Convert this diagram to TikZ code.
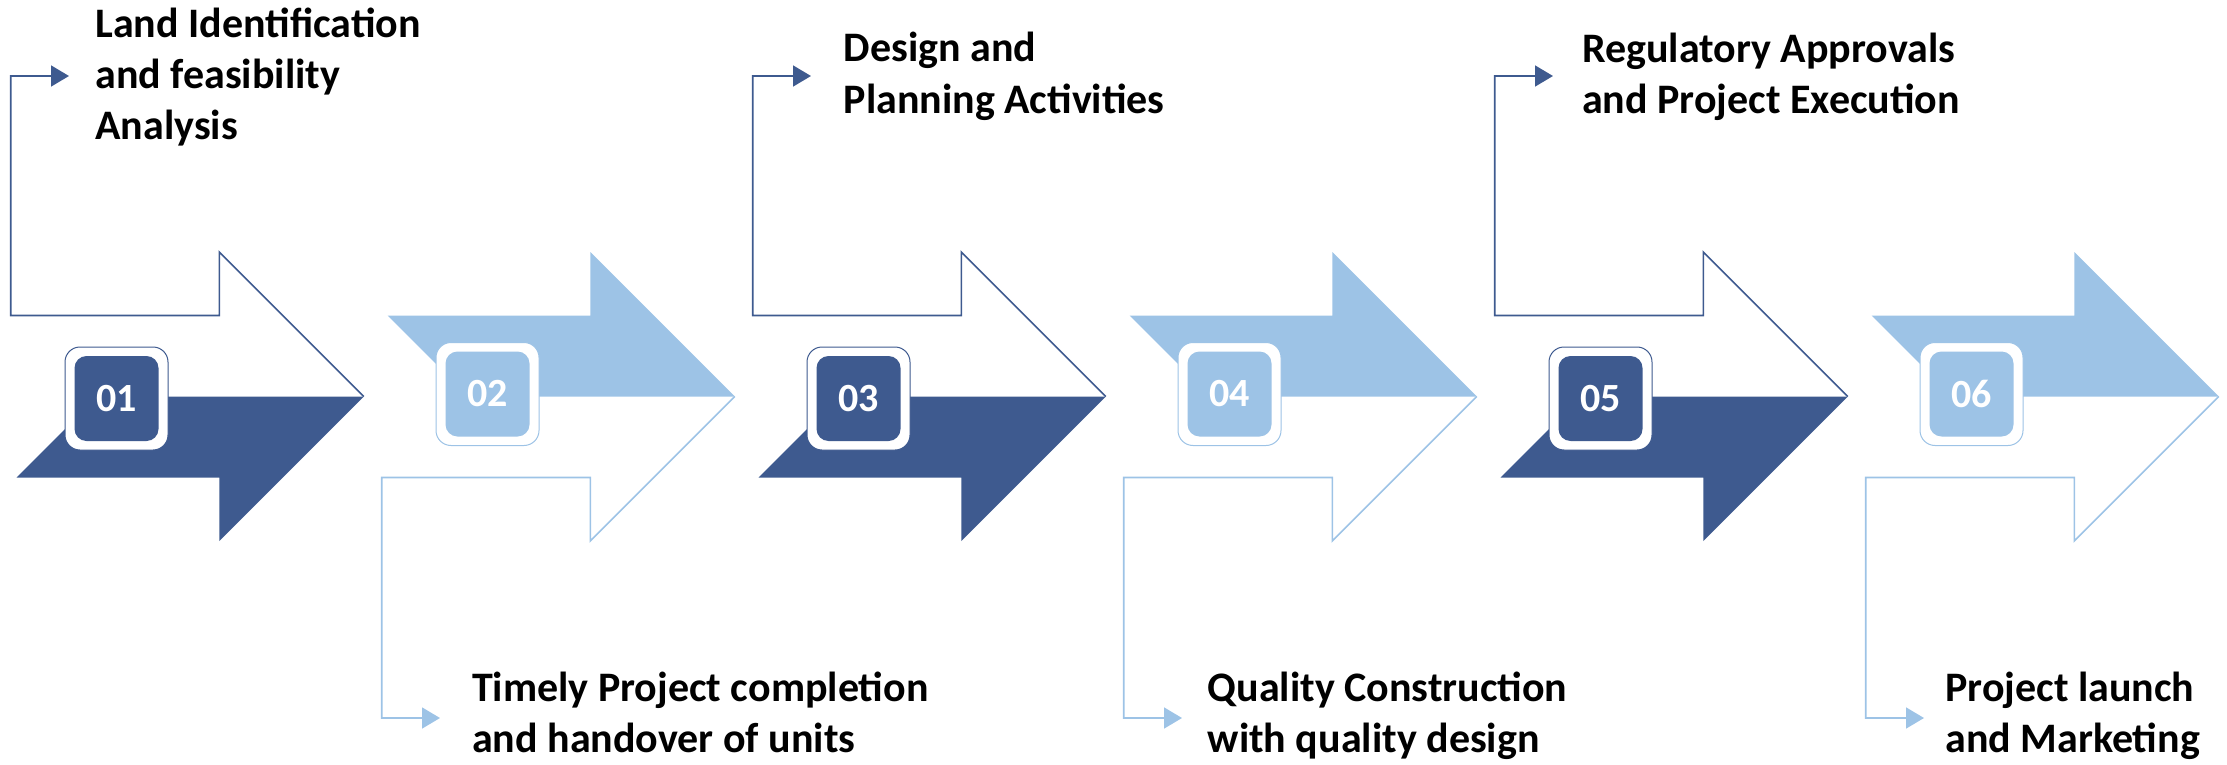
\documentclass[tikz,border=0pt]{standalone}
\usepackage{fontspec}
\setmainfont{Carlito}
\usetikzlibrary{arrows.meta}
\definecolor{darkb}{HTML}{3E5A8F}
\definecolor{lightb}{HTML}{9DC3E6}
\begin{document}
\begin{tikzpicture}[x=0.5pt,y=-0.5pt,
  lbl/.style={anchor=base west, inner sep=0pt, align=left, font=\fontsize{21}{25.5}\selectfont\bfseries},
  outbadge/.style={draw=#1, line width=0.5pt, fill=white, rounded corners=7.5pt, minimum width=51.5pt, minimum height=51.5pt, inner sep=0pt},
  inbadge/.style={fill=#1, rounded corners=6pt, minimum width=42pt, minimum height=42.5pt, inner sep=0pt, text=white, font=\fontsize{20}{24}\selectfont\bfseries},
  conn/.style={draw=#1, line width=0.8pt, line join=miter, -{Triangle[length=9pt,width=10.5pt]}},
]
\useasboundingbox (0,0) rectangle (2227,765);

% ---------- Arrows 1, 3, 5 (dark, lower half filled) ----------
\foreach \k/\n in {0/1,2/3,4/5}{
  \begin{scope}[shift={(371*\k,0)}]
    \fill[darkb] (16.7,477.5) -- (97.7,396.5) -- (363.8,396.5) -- (219.3,541) -- (219.3,477.5) -- cycle;
    \coordinate (tip\n) at (363.8,396.5);
    \coordinate (end\n) at (69,76);
    \draw[conn=darkb] (tip\n) -- (219.3,252) -- (219.3,315.5) -- (10.7,315.5) -- (10.7,76) -- (end\n);
    \node[outbadge=darkb] (ob\n) at (116.5,398.5) {};
    \node[inbadge=darkb] (b\n) at (ob\n.center) {0\n};
  \end{scope}
}

% ---------- Arrows 2, 4, 6 (light, upper half filled) ----------
\foreach \k/\n in {1/2,3/4,5/6}{
  \begin{scope}[shift={(371*\k,0)}]
    \fill[lightb] (16.7,315.5) -- (97.7,396.5) -- (363.8,396.5) -- (219.3,252) -- (219.3,315.5) -- cycle;
    \coordinate (tip\n) at (363.8,396.5);
    \coordinate (end\n) at (69,718);
    \draw[conn=lightb] (tip\n) -- (219.3,541) -- (219.3,477.5) -- (10.7,477.5) -- (10.7,718) -- (end\n);
    \node[outbadge=lightb] (ob\n) at (116.5,394) {};
    \node[inbadge=lightb] (b\n) at (ob\n.center) {0\n};
  \end{scope}
}

% ---------- Labels ----------
\node[lbl] (L1) at (95,140) {Land Identification\\and feasibility\\Analysis};
\node[lbl] (L2) at (471.7,752) {Timely Project completion\\and handover of units};
\node[lbl] (L3) at (843.3,113) {Design and\\Planning Activities};
\node[lbl] (L4) at (1207.3,752) {Quality Construction\\with quality design};
\node[lbl] (L5) at (1581.7,114) {Regulatory Approvals\\and Project Execution};
\node[lbl] (L6) at (1945,752) {Project launch\\and Marketing};
\end{tikzpicture}
\end{document}
